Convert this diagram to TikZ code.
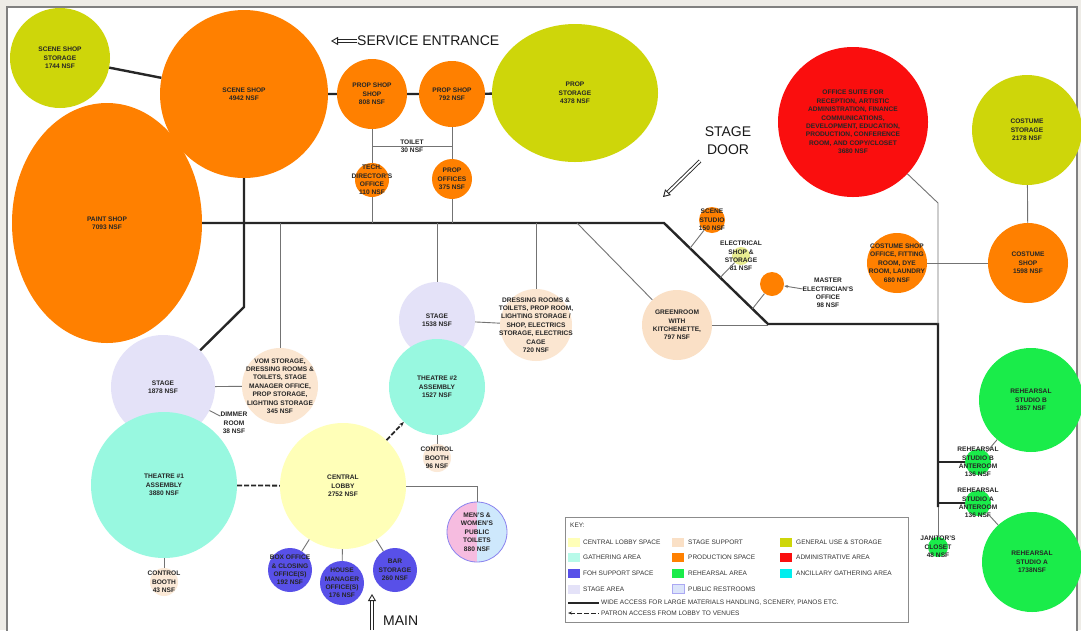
\documentclass[tikz,border=0pt]{standalone}
\usepackage{fontspec}
\setmainfont{Liberation Sans}
\usetikzlibrary{calc,shapes.geometric,arrows.meta}

\definecolor{prod}{RGB}{255,128,0}
\definecolor{general}{RGB}{206,214,10}
\definecolor{admin}{RGB}{250,14,14}
\definecolor{stagearea}{RGB}{228,226,248}
\definecolor{gather}{RGB}{152,248,224}
\definecolor{lobbyc}{RGB}{255,255,184}
\definecolor{support}{RGB}{250,224,198}
\definecolor{foh}{RGB}{88,80,232}
\definecolor{rehearse}{RGB}{26,236,74}
\definecolor{ancillary}{RGB}{0,238,238}
\definecolor{wpink}{RGB}{246,188,224}
\definecolor{mblue}{RGB}{206,232,252}
\definecolor{pagebg}{RGB}{238,236,231}

\tikzset{
  room/.style={circle, inner sep=0pt, minimum size={2*#1 pt}},
  hall/.style={ellipse, inner sep=0pt},
  tag/.style={font=\fontsize{6.6}{8.4}\selectfont\bfseries, align=center, inner sep=0pt, text=black!85},
  access/.style={line width=2.4pt, black!85},
  link/.style={line width=0.9pt, black!55},
  patron/.style={line width=1.8pt, black!85, dash pattern=on 5pt off 2pt},
  entry/.style={draw=black!85, double=white, double distance=1.8pt, line width=0.9pt, -{Triangle[open, length=7pt, width=8pt]}},
  sign/.style={font=\fontsize{14}{18}\selectfont, align=center, inner sep=0pt, text=black!90},
  keytext/.style={font=\fontsize{6.5}{7}\selectfont, anchor=west, inner sep=0pt, text=black!80},
  swatch/.style={minimum width=12pt, minimum height=9pt, inner sep=0pt, anchor=west}
}

\begin{document}
\begin{tikzpicture}[x=1pt, y=-1pt]
		%%%%% FRAME %%%%%
		\useasboundingbox (0,0) rectangle (1081,630);
		\fill[pagebg] (0,0) rectangle (1081,630);
		\draw[fill=white, draw=black!50, line width=1.2pt] (7,7) rectangle (1077,640);
		
		%%%%% PRODUCTION %%%%%
		\node[room=50, fill=general, label={[tag]center:{SCENE SHOP\\STORAGE\\1744 NSF}}] (sstore) at (60,58) {};
		\node[hall, fill=prod, minimum width=190pt, minimum height=240pt, label={[tag]center:{PAINT SHOP\\7093 NSF}}] (paint) at (107,223) {};
		\node[room=84, fill=prod, label={[tag]center:{SCENE SHOP\\4942 NSF}}] (sshop) at (244,94) {};
		\node[room=35, fill=prod, label={[tag]center:{PROP SHOP\\SHOP\\808 NSF}}] (ppshop) at (372,94) {};
		\node[room=33, fill=prod, label={[tag]center:{PROP SHOP\\792 NSF}}] (pshop) at (452,94) {};
		\node[hall, fill=general, minimum width=166pt, minimum height=138pt, label={[tag]center:{PROP\\STORAGE\\4378 NSF}}] (pstore) at (575,93) {};
		\node[room=17, fill=prod, label={[tag]center:{TECH.\\DIRECTOR'S\\OFFICE\\110 NSF}}] (techoff) at (372,180) {};
		\node[room=20, fill=prod, label={[tag]center:{PROP\\OFFICES\\375 NSF}}] (poff) at (452,179) {};
		\node[tag] (toilet) at (412,146) {TOILET\\30 NSF};
		
		\node[room=75, fill=admin, label={[tag]center:{OFFICE SUITE FOR\\RECEPTION, ARTISTIC\\ADMINISTRATION, FINANCE\\COMMUNICATIONS,\\DEVELOPMENT, EDUCATION,\\PRODUCTION, CONFERENCE\\ROOM, AND COPY/CLOSET\\3680 NSF}}] (admin) at (853,122) {};
		\node[room=55, fill=general, label={[tag]center:{COSTUME\\STORAGE\\2178 NSF}}] (cstore) at (1027,130) {};
		\node[room=40, fill=prod, label={[tag]center:{COSTUME\\SHOP\\1598 NSF}}] (cshop) at (1028,263) {};
		\node[room=30, fill=prod, label={[tag]center:{COSTUME SHOP\\OFFICE, FITTING\\ROOM, DYE\\ROOM, LAUNDRY\\680 NSF}}] (coff) at (897,263) {};
		\node[room=13, fill=prod, label={[tag]center:{SCENE\\STUDIO\\150 NSF}}] (sstudio) at (712,220) {};
		\node[room=9, fill=general!45, label={[tag]center:{ELECTRICAL\\SHOP \&\\STORAGE\\81 NSF}}] (elec) at (741,256) {};
		\node[room=12, fill=prod] (melec) at (772,284) {};
		\node[tag] (mtext) at (828,293) {MASTER\\ELECTRICIAN'S\\OFFICE\\98 NSF};
		
		%%%%% STAGES %%%%%
		\node[room=35, fill=support, label={[tag]center:{GREENROOM\\WITH\\KITCHENETTE,\\797 NSF}}] (green) at (677,325) {};
		\node[room=36, fill=support!80, label={[tag]center:{DRESSING ROOMS \&\\TOILETS, PROP ROOM,\\LIGHTING STORAGE /\\SHOP, ELECTRICS\\STORAGE, ELECTRICS\\CAGE\\720 NSF}}] (dress) at (536,325) {};
		\node[room=38, fill=stagearea, label={[tag]center:{STAGE\\1538 NSF}}] (stage2) at (437,320) {};
		\node[room=48, fill=gather, label={[tag]center:{THEATRE \#2\\ASSEMBLY\\1527 NSF}}] (thtr2) at (437,387) {};
		\node[room=14, fill=support!70, label={[tag]center:{CONTROL\\BOOTH\\96 NSF}}] (cb2) at (437,458) {};
		
		\node[room=52, fill=stagearea, label={[tag]center:{STAGE\\1878 NSF}}] (stage1) at (163,387) {};
		\node[room=73, fill=gather, label={[tag]center:{THEATRE \#1\\ASSEMBLY\\3880 NSF}}] (thtr1) at (164,485) {};
		\node[room=14, fill=support!70, label={[tag]center:{CONTROL\\BOOTH\\43 NSF}}] (cb1) at (164,582) {};
		\node[room=38, fill=support!80, label={[tag]center:{VOM STORAGE,\\DRESSING ROOMS \&\\TOILETS, STAGE\\MANAGER OFFICE,\\PROP STORAGE,\\LIGHTING STORAGE\\345 NSF}}] (vom) at (280,386) {};
		\node[tag] (dimmer) at (234,423) {DIMMER\\ROOM\\38 NSF};
		
		%%%%% LOBBY %%%%%
		\node[room=63, fill=lobbyc, label={[tag]center:{CENTRAL\\LOBBY\\2752 NSF}}] (lobby) at (343,486) {};
		\node[room=30, fill=wpink, draw=foh!70, line width=0.8pt, path picture={\fill[mblue] (path picture bounding box.north) rectangle (path picture bounding box.south east);}, label={[tag]center:{MEN'S \&\\WOMEN'S\\PUBLIC\\TOILETS\\880 NSF}}] (wc) at (477,532) {};
		\node[room=22, fill=foh, label={[tag]center:{BOX OFFICE\\\& CLOSING\\OFFICE(S)\\192 NSF}}] (boxoff) at (290,570) {};
		\node[room=22, fill=foh, label={[tag]center:{HOUSE\\MANAGER\\OFFICE(S)\\176 NSF}}] (house) at (342,583) {};
		\node[room=22, fill=foh, label={[tag]center:{BAR\\STORAGE\\260 NSF}}] (bar) at (395,570) {};
		
		%%%%% REHEARSAL %%%%%
		\node[room=52, fill=rehearse, label={[tag]center:{REHEARSAL\\STUDIO B\\1857 NSF}}] (rehB) at (1031,400) {};
		\node[room=50, fill=rehearse, label={[tag]center:{REHEARSAL\\STUDIO A\\1738NSF}}] (rehA) at (1032,562) {};
		\node[room=13, fill=rehearse, label={[tag]center:{REHEARSAL\\STUDIO B\\ANTEROOM\\136 NSF}}] (anteB) at (978,462) {};
		\node[room=13, fill=rehearse, label={[tag]center:{REHEARSAL\\STUDIO A\\ANTEROOM\\136 NSF}}] (anteA) at (978,503) {};
		\node[room=10, fill=rehearse, label={[tag]center:{JANITOR'S\\CLOSET\\48 NSF}}] (janitor) at (938,547) {};
		
		%%%%% SIGNS %%%%%
		\node[sign, anchor=west] (service) at (357,41) {SERVICE ENTRANCE};
		\node[sign] (stagedoor) at (728,141) {STAGE\\DOOR};
		\node[sign, anchor=west] (mainent) at (383,621) {MAIN};
		\coordinate (svctip) at (331,41);
		\coordinate (doortail) at (700,161);
		\coordinate (doortip) at (663,197);
		\coordinate (maintail) at (372,630);
		\coordinate (maintip) at (372,594);
		\draw[entry] (service.west) -- (svctip);
		\draw[entry] (doortail) -- (doortip);
		\draw[entry] (maintail) -- (maintip);
		
		%%%%% CONNECTORS %%%%%
		\coordinate (bend1) at (664,223);
		\coordinate (bend2) at (768,324);
		\coordinate (bend3) at (938,324);
		\coordinate (bend4) at (938,507);
		\coordinate (knee) at (244,307);
		\coordinate (adminknee) at (938,203);
		\coordinate (greentap) at (577,223);
		\coordinate (tapB) at (938,462);
		\coordinate (tapA) at (938,503);
		\coordinate (studiotap) at ($(bend1)!0.25!(bend2)$);
		\coordinate (electap) at ($(bend1)!0.54!(bend2)$);
		\coordinate (mastertap) at ($(bend1)!0.85!(bend2)$);
		
		\draw[access] (sstore) -- (sshop);
		\draw[access] (sshop) -- (ppshop) -- (pshop) -- (pstore);
		\draw[access] (paint.east) -- (bend1) -- (bend2) -- (bend3) -- (bend4);
		\draw[access] (sshop) -- (knee) -- (stage1);
		\draw[access] (tapB) -- (anteB);
		\draw[access] (tapA) -- (anteA);
		
		\draw[link] (ppshop) -- (techoff);
		\draw[link] (pshop) -- (poff);
		\draw[link] (ppshop |- toilet) -- (pshop |- toilet);
		\draw[link] (techoff) -- (techoff |- bend1);
		\draw[link] (poff) -- (poff |- bend1);
		\draw[link] (vom |- bend1) -- (vom);
		\draw[link] (stage2 |- bend1) -- (stage2);
		\draw[link] (dress |- bend1) -- (dress);
		\draw[link] (greentap) -- (green);
		\draw[link] (green) -- (green -| bend2);
		\draw[link] (stage1) -- (vom);
		\draw[link] (stage1) -- (dimmer);
		\draw[link] (stage2) -- (dress);
		\draw[link] (thtr1) -- (cb1);
		\draw[link] (thtr2) -- (cb2);
		\draw[link] (lobby) -- (wc |- lobby) -- (wc);
		\draw[link] (lobby) -- (boxoff);
		\draw[link] (lobby) -- (house);
		\draw[link] (lobby) -- (bar);
		\draw[link] (sstudio) -- (studiotap);
		\draw[link] (elec) -- (electap);
		\draw[link] (melec) -- (mastertap);
		\draw[link, -{Stealth[length=4pt]}] (mtext) -- (melec);
		\draw[link] (admin) -- (adminknee) -- (bend3);
		\draw[link] (coff) -- (cshop);
		\draw[link] (cstore) -- (cshop);
		\draw[link] (anteB) -- (rehB);
		\draw[link] (anteA) -- (rehA);
		\draw[link] (bend4) -- (janitor);
		\draw[patron] (thtr1) -- (lobby);
		\draw[patron, -{Stealth[length=5pt]}] (lobby) -- (thtr2);
		
		%%%%% KEY %%%%%
		\draw[black!45, line width=0.9pt] (565,517) rectangle (908,622);
		\node[keytext] (k0) at (570,525) {KEY:};
		\node[swatch, fill=lobbyc] (s1) at (568,542) {};
		\node[keytext] (k1) at (583,542) {CENTRAL LOBBY SPACE};
		\node[swatch, fill=support] (s2) at (672,542) {};
		\node[keytext] (k2) at (688,542) {STAGE SUPPORT};
		\node[swatch, fill=general] (s3) at (780,542) {};
		\node[keytext] (k3) at (796,542) {GENERAL USE \& STORAGE};
		\node[swatch, fill=gather!70] (s4) at (568,557) {};
		\node[keytext] (k4) at (583,557) {GATHERING AREA};
		\node[swatch, fill=prod] (s5) at (672,557) {};
		\node[keytext] (k5) at (688,557) {PRODUCTION SPACE};
		\node[swatch, fill=admin] (s6) at (780,557) {};
		\node[keytext] (k6) at (796,557) {ADMINISTRATIVE AREA};
		\node[swatch, fill=foh] (s7) at (568,573) {};
		\node[keytext] (k7) at (583,573) {FOH SUPPORT SPACE};
		\node[swatch, fill=rehearse] (s8) at (672,573) {};
		\node[keytext] (k8) at (688,573) {REHEARSAL AREA};
		\node[swatch, fill=ancillary] (s9) at (780,573) {};
		\node[keytext] (k9) at (796,573) {ANCILLARY GATHERING AREA};
		\node[swatch, fill=stagearea] (s10) at (568,589) {};
		\node[keytext] (k10) at (583,589) {STAGE AREA};
		\node[swatch, fill=stagearea!60!mblue, draw=foh!50] (s11) at (672,589) {};
		\node[keytext] (k11) at (688,589) {PUBLIC RESTROOMS};
		\node[keytext] (k12) at (601,603) {WIDE ACCESS FOR LARGE MATERIALS HANDLING, SCENERY, PIANOS ETC.};
		\node[keytext] (k13) at (601,613) {PATRON ACCESS FROM LOBBY TO VENUES};
		\coordinate (widestart) at (568,603);
		\coordinate (patronstart) at (568,613);
		\draw[access, line width=1.6pt, shorten >=2pt] (widestart) -- (k12.west);
		\draw[patron, line width=1pt, shorten >=2pt, {Stealth[length=4pt]}-] (patronstart) -- (k13.west);
		
		%%%%% END %%%%%
	\end{tikzpicture}
\end{document}
